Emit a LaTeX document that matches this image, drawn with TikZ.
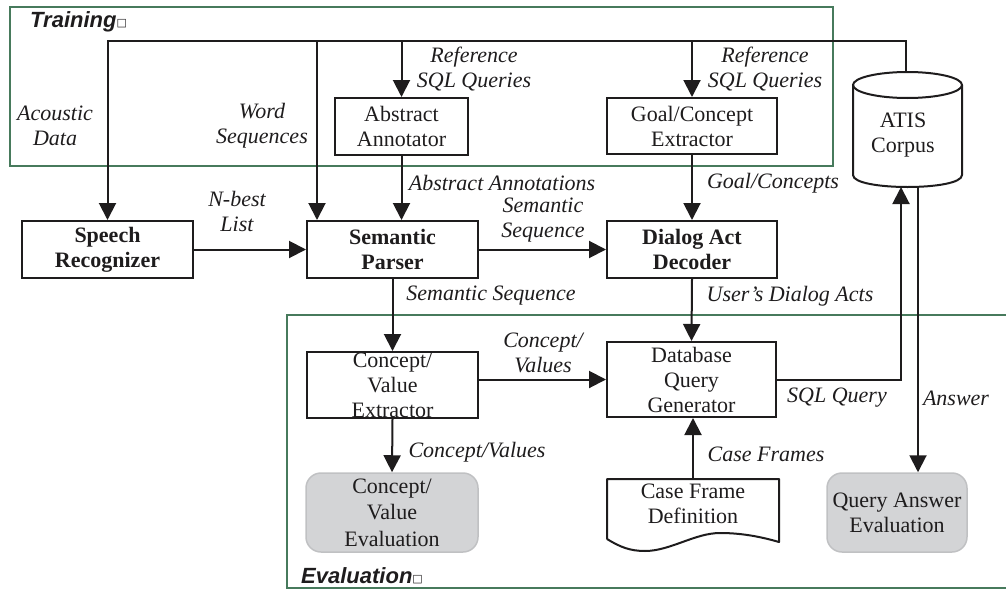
\documentclass[tikz,border=0pt]{standalone}
\usepackage{fontspec}
\setmainfont{Liberation Serif}
\newfontfamily\headfont{Liberation Sans}
\newfontfamily\symfont{DejaVu Sans}
\usetikzlibrary{arrows.meta,calc}
\definecolor{panelgreen}{RGB}{71,122,92}
\definecolor{evalgray}{RGB}{211,212,214}
\definecolor{evaledge}{RGB}{192,193,195}
\definecolor{ink}{RGB}{30,28,29}
\newcommand{\titlebox}{{\symfont\mdseries\upshape\fontsize{11}{11}\selectfont\raisebox{1.5pt}{□}}}

\begin{document}
\begin{tikzpicture}[x=1pt,y=-1pt,
  ln/.style={line width=2pt, draw=ink},
  arr/.style={ln, -{Triangle[length=17pt,width=17pt]}},
  panel/.style={draw=panelgreen, line width=2pt},
  txt/.style={font=\fontsize{22}{25}\selectfont, text=ink, align=center, inner sep=0pt},
  lbl/.style={txt, font=\fontsize{22}{25}\selectfont\itshape},
  box/.style={txt, draw=ink, line width=2pt},
  boldbox/.style={box, font=\fontsize{22}{25}\selectfont\bfseries},
  evalbox/.style={txt, fill=evalgray, draw=evaledge, line width=1.5pt, rounded corners=15pt},
  paneltitle/.style={font=\headfont\bfseries\itshape\fontsize{22}{22}\selectfont, text=ink, inner sep=0pt, anchor=west},
]
\useasboundingbox (0,0) rectangle (1006,589);

% panels
\draw[panel] (10,7) rectangle (833,166);
\draw[panel] (1008,315) -- (287,315) -- (287,587.5) -- (1008,587.5);
\node[paneltitle] (trainTitle) at (30,22) {Training\titlebox};
\node[paneltitle] (evalTitle) at (301,576) {Evaluation\titlebox};

% processing boxes
\node[boldbox, minimum width=171pt, minimum height=57pt] (speech) at (107.5,249.5) {Speech\\Recognizer};
\node[boldbox, minimum width=171pt, minimum height=57pt] (parser) at (392.5,249.5) {Semantic\\Parser};
\node[boldbox, minimum width=170pt, minimum height=57pt] (decoder) at (692,249.5) {Dialog Act\\Decoder};
\node[box, minimum width=133pt, minimum height=57pt] (annot) at (401.5,126.5) {Abstract\\Annotator};
\node[box, minimum width=170pt, minimum height=56pt] (goal) at (692,126) {Goal/Concept\\Extractor};
\node[box, minimum width=171pt, minimum height=66pt] (conval) at (392.5,385) {Concept/\\Value\\Extractor};
\node[box, minimum width=169pt, minimum height=75pt] (dbq) at (691.5,379.5) {Database\\Query\\Generator};

% evaluation end points
\node[evalbox, minimum width=172pt, minimum height=79pt, font=\fontsize{22}{26.5}\selectfont] (cveval) at (392,512.5) {Concept/\\Value\\Evaluation};
\node[evalbox, minimum width=140pt, minimum height=79pt] (qaeval) at (897,512.5) {Query Answer\\Evaluation};

% case frame document
\draw[ln, line join=round] (607,539) -- (607,479) -- (779,479) -- (779,542)
  .. controls (765,538) and (745,533) .. (720,533)
  .. controls (695,533) and (670,551) .. (645,551)
  .. controls (630,551) and (620,547) .. (607,539);
\node[txt, minimum width=172pt, minimum height=62pt] (caseframe) at (693,510) {};
\node[txt] (caseframeText) at (693,504) {Case Frame\\Definition};

% ATIS corpus cylinder
\draw[ln] (907.5,85) ellipse [x radius=54.5pt, y radius=13pt];
\draw[ln] (853,85) -- (853,175) .. controls (853,191) and (962,191) .. (962,175) -- (962,85);
\node[txt] (atis) at (903,135) {ATIS\\Corpus};
\coordinate (atisTop) at (906,72);
\coordinate (atisIn) at (901,187);
\coordinate (atisOut) at (918,186.5);

% training data bus
\coordinate (bus) at (0,41);
\coordinate (wordIn) at ([xshift=11pt]parser.north west);
\draw[arr] (atisTop) |- (bus -| speech.north) -- (speech.north);
\draw[arr] (bus -| wordIn) -- (wordIn);
\draw[arr] (bus -| annot.north) -- (annot.north);
\draw[arr] (bus -| goal.north) -- (goal.north);

% main flow
\draw[arr] (annot.south) -- (annot.south |- parser.north);
\draw[arr] (goal.south) -- (decoder.north);
\draw[arr] (speech.east) -- (parser.west);
\draw[arr] (parser.east) -- (decoder.west);
\draw[arr] (parser.south) -- (conval.north);
\draw[arr] (decoder.south) -- (dbq.north);
\draw[arr] (conval.east |- dbq.west) -- (dbq.west);
\draw[arr] (conval.south) -- (cveval.north);
\draw[arr] (caseframe.north) -- (dbq.south -| caseframe.north);
\draw[arr] (dbq.east) -| (atisIn);
\draw[arr] (atisOut) -- (atisOut |- qaeval.north);

% connector labels
\node[lbl] (lAcoustic) at (55,126) {Acoustic\\Data};
\node[lbl] (lWord) at (262,126) {Word\\Sequences};
\node[lbl] (lRef1) at (474,69) {Reference\\SQL Queries};
\node[lbl] (lRef2) at (765,69) {Reference\\SQL Queries};
\node[lbl] (lAbs) at (502,183) {Abstract Annotations};
\node[lbl] (lGoal) at (773,183) {Goal/Concepts};
\node[lbl] (lNbest) at (237,211) {N-best\\List};
\node[lbl] (lSemSeq) at (543,220) {Semantic\\Sequence};
\node[lbl] (lSemSeq2) at (491,296) {Semantic Sequence};
\node[lbl] (lActs) at (790,296) {User’s Dialog Acts};
\node[lbl] (lCV1) at (543,353) {Concept/\\Values};
\node[lbl] (lCV2) at (477,452) {Concept/Values};
\node[lbl] (lSQL) at (837,398) {SQL Query};
\node[lbl] (lAnswer) at (956,398) {Answer};
\node[lbl] (lCase) at (766,454) {Case Frames};
\end{tikzpicture}
\end{document}
